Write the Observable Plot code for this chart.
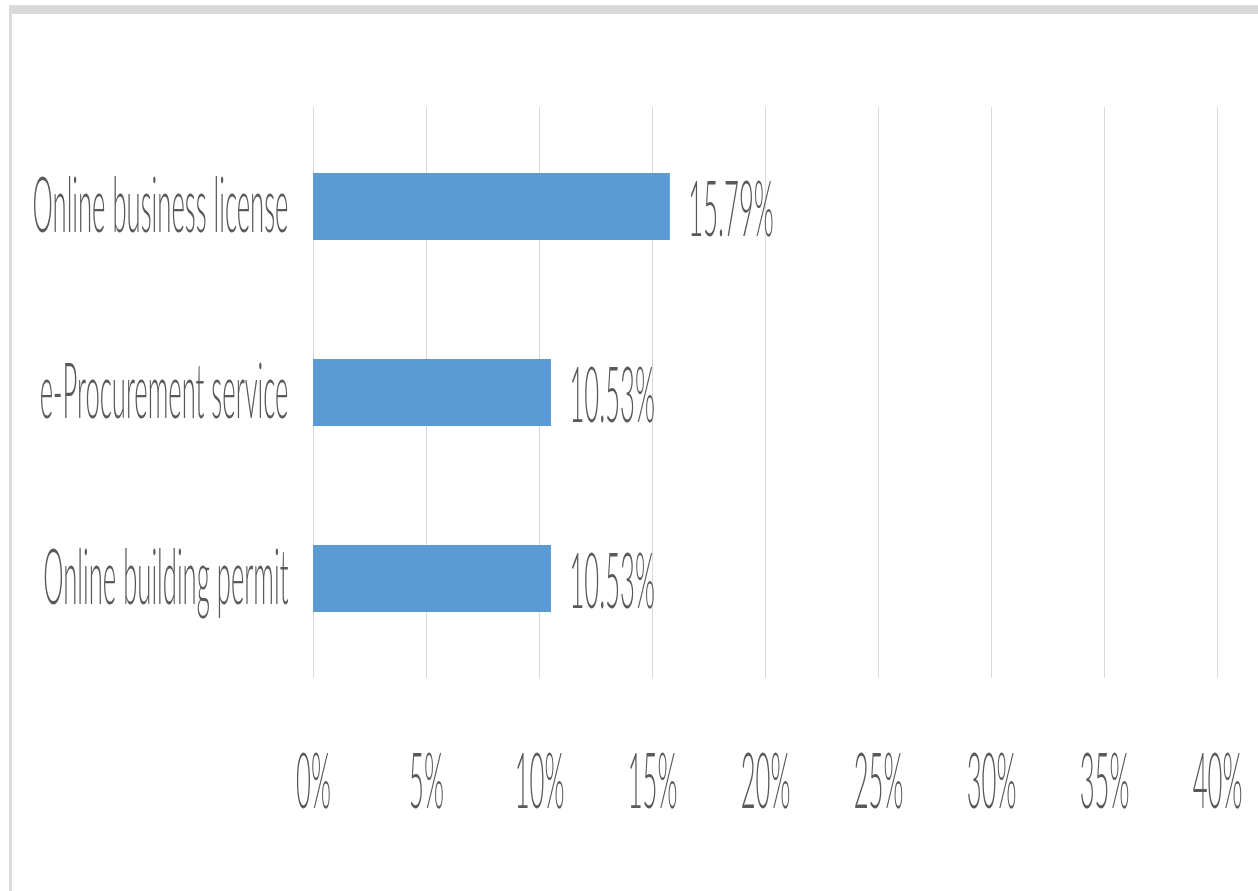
<!DOCTYPE html>
<html>
<head>
<meta charset="utf-8">
<script src="https://cdn.jsdelivr.net/npm/d3@7"></script>
<script src="https://cdn.jsdelivr.net/npm/@observablehq/plot@0.6"></script>
<style>
  html, body { margin: 0; padding: 0; background: #ffffff; }
  #wrap { position: relative; width: 1258px; height: 891px; overflow: hidden; background: #ffffff; }
  #frame { position: absolute; left: 9px; top: 5px; width: 1260px; height: 880px;
           border-top: 9px solid #d9d9d9; border-left: 3px solid #dcdcdc; border-bottom: 3px solid #e2e2e2; }
  #chart { position: absolute; left: 0; top: 0; opacity: 0.999; will-change: transform; }
</style>
</head>
<body>
<div id="wrap"><div id="frame"></div><div id="chart"></div></div>
<script>
const categories = ["Online business license", "e-Procurement service", "Online building permit"];
const values = [15.79, 10.53, 10.53];
const valueLabels = ["15.79%", "10.53%", "10.53%"];
const xTicks = [0, 5, 10, 15, 20, 25, 30, 35, 40];

const data = categories.map((c, i) => ({category: c, value: values[i], label: valueLabels[i]}));

const FONT = 24;
const SY = 3.2;

const chart = Plot.plot({
  width: 1258,
  height: 891,
  marginLeft: 313,
  marginRight: 41,
  marginTop: 107,
  marginBottom: 213,
  style: {fontFamily: "Lato, 'Liberation Sans', sans-serif", fontSize: FONT + "px", fontWeight: 300, color: "#595959", background: "transparent"},
  x: {domain: [0, 40]},
  y: {domain: categories, paddingInner: 0.64, paddingOuter: 0.35},
  marks: [
    Plot.gridX(xTicks, {stroke: "#d9d9d9", strokeOpacity: 1, strokeWidth: 1}),
    Plot.barX(data, {x: "value", y: "category", fill: "#5b9bd5"}),
    Plot.text(data, {x: "value", y: "category", text: "label", textAnchor: "start", dx: 18, dy: 4, fill: "#595959", fontSize: FONT}),
    Plot.axisX({ticks: xTicks, tickFormat: d => d + "%", tickSize: 0, tickPadding: 75, label: null, fontSize: FONT}),
    Plot.axisY({tickSize: 0, tickPadding: 25, label: null, fontSize: FONT})
  ]
});

document.getElementById("chart").appendChild(chart);

// Reproduce the condensed text look of the reference
let ref = null;
chart.querySelectorAll("text").forEach(t => { if (t.textContent === categories[0]) ref = t; });
const len = ref ? ref.getComputedTextLength() : 256;
const SX = 256 / len;
chart.querySelectorAll("text").forEach(t => {
  let tr = t.getAttribute("transform") || "";
  const xa = t.getAttribute("x"), ya = t.getAttribute("y");
  let tx = 0, ty = 0;
  if (xa != null && !/em/.test(xa)) { tx = +xa; t.removeAttribute("x"); }
  if (ya != null && !/em/.test(ya)) { ty = +ya; t.removeAttribute("y"); }
  if (tx || ty) tr += ` translate(${tx},${ty})`;
  tr += ` scale(${SX},${SY})`;
  t.setAttribute("transform", tr.trim());
});
</script>
</body>
</html>
